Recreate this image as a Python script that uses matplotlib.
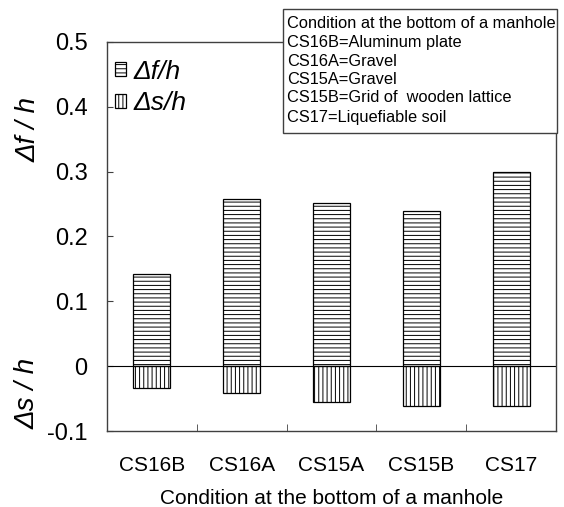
import numpy as np
import matplotlib
matplotlib.use("Agg")
import matplotlib.pyplot as plt
from matplotlib.patches import Rectangle

plt.rcParams['font.family'] = ['Liberation Sans', 'DejaVu Sans']
plt.rcParams['axes.unicode_minus'] = False
plt.rcParams['hatch.linewidth'] = 0.7

#Daten:
categories = ["CS16B", "CS16A", "CS15A", "CS15B", "CS17"]
df_h = [0.142, 0.258, 0.251, 0.239, 0.300]
ds_h = [-0.034, -0.042, -0.056, -0.061, -0.061]
yticks = [-0.1, 0, 0.1, 0.2, 0.3, 0.4, 0.5]
ytick_labels = ["-0.1", "0", "0.1", "0.2", "0.3", "0.4", "0.5"]
info_lines = ["Condition at the bottom of a manhole",
              "CS16B=Aluminum plate",
              "CS16A=Gravel",
              "CS15A=Gravel",
              "CS15B=Grid of  wooden lattice",
              "CS17=Liquefiable soil"]

W, H = 564, 507
fig = plt.figure(figsize=(W/100, H/100), dpi=100)
ax = fig.add_axes([107/W, 1-431/H, (556-107)/W, (431-42)/H])

x = np.arange(len(categories))
b1 = ax.bar(x, df_h, width=0.41, color="white", edgecolor="black",
            linewidth=0.9, hatch="----")
b2 = ax.bar(x, ds_h, width=0.41, color="white", edgecolor="black",
            linewidth=0.9, hatch="||||")
ax.axhline(0, color="black", lw=0.8)

ax.set_xlim(-0.5, 4.5)
ax.set_ylim(-0.1, 0.5)
ax.set_yticks(yticks)
ax.set_yticklabels(ytick_labels, fontsize=17)
ax.set_xticks(x)
ax.set_xticklabels(categories, fontsize=15)
ax.set_xticks(np.arange(0.5, 4.5, 1), minor=True)
ax.tick_params(axis="x", which="major", length=0, pad=18)
ax.tick_params(axis="x", which="minor", direction="in", length=5, color="#404040")
ax.tick_params(axis="y", direction="in", length=4, pad=14, color="#404040")
for s in ax.spines.values():
    s.set_color("#404040")
    s.set_linewidth(1.0)

ax.set_xlabel("Condition at the bottom of a manhole", fontsize=15, labelpad=10)

fig.text(29/W, 1-129/H, "\u0394f / h", rotation=90, fontsize=20, style="italic",
         ha="center", va="center")
fig.text(28/W, 1-393/H, "\u0394s / h", rotation=90, fontsize=20, style="italic",
         ha="center", va="center")

leg = ax.legend([b1, b2], ["\u0394f/h", "\u0394s/h"], loc="upper left",
                bbox_to_anchor=(-0.005, 0.982), frameon=False,
                prop={"style": "italic", "size": 19},
                handlelength=0.4, handleheight=0.4, handletextpad=0.3,
                borderaxespad=0.0, labelspacing=0.3)

#Info-Box
box = Rectangle((283/W, 1-133/H), (557-283)/W, (133-9.5)/H, transform=fig.transFigure,
                facecolor="white", edgecolor="#404040", lw=1.0, zorder=5)
fig.add_artist(box)
ys = [23, 42, 61, 79.5, 98, 117]
for t, yy in zip(info_lines, ys):
    fig.text(287/W, 1-yy/H, t, fontsize=11.8, ha="left", va="center", zorder=6)

fig.savefig("out.png", dpi=100)
